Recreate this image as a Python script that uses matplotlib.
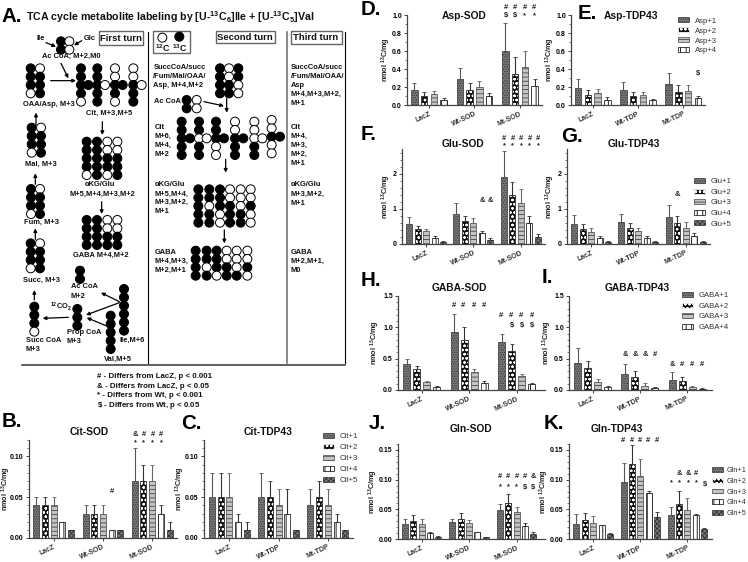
import matplotlib
matplotlib.use('Agg')
import matplotlib.pyplot as plt
from matplotlib.patches import Circle, Rectangle, Patch
from matplotlib.ticker import MultipleLocator, FormatStrFormatter

plt.rcParams['font.family'] = ['Liberation Sans', 'DejaVu Sans']
plt.rcParams['mathtext.fontset'] = 'custom'
plt.rcParams['mathtext.rm'] = 'Liberation Sans'
plt.rcParams['mathtext.bf'] = 'Liberation Sans:bold'
plt.rcParams['mathtext.default'] = 'regular'
plt.rcParams['hatch.linewidth'] = 0.6

W, H = 748, 562
sod_groups = ['LacZ', 'Wt-SOD', 'Mt-SOD']
tdp_groups = ['LacZ', 'Wt-TDP', 'Mt-TDP']

cit_sod_vals = [[.04, .03, .07], [.04, .03, .07], [.04, .03, .07], [.02, .01, .03], [.01, .01, .01]]
cit_sod_tops = [[.05, .04, .11], [.05, .04, .09], [.05, .04, .09], [.02, .01, .04], [.01, .01, .02]]
cit_tdp_vals = [[.05, .05, .04], [.05, .05, .05], [.05, .04, .04], [.02, .03, .02], [.01, .01, .01]]
cit_tdp_tops = [[.08, .08, .06], [.08, .07, .07], [.08, .06, .06], [.03, .06, .03], [.02, .01, .01]]
asp_sod_vals = [[.17, .29, .60], [.10, .17, .35], [.12, .20, .42], [.06, .10, .21]]
asp_sod_tops = [[.24, .41, .91], [.14, .24, .53], [.155, .265, .595], [.075, .13, .285]]
asp_tdp_vals = [[.19, .17, .23], [.11, .10, .14], [.13, .11, .16], [.06, .055, .08]]
asp_tdp_tops = [[.29, .26, .36], [.17, .15, .225], [.18, .15, .225], [.085, .07, .105]]
glu_sod_vals = [[.58, .86, 1.9], [.44, .66, 1.4], [.37, .6, 1.18], [.17, .3, .6], [.06, .12, .21]]
glu_sod_tops = [[.77, 1.17, 2.65], [.51, .8, 1.78], [.44, .73, 1.56], [.22, .36, .79], [.08, .17, .28]]
glu_tdp_vals = [[.58, .62, .76], [.44, .46, .6], [.35, .37, .47], [.18, .18, .24], [.06, .06, .07]]
glu_tdp_tops = [[.83, .85, 1.12], [.57, .59, .79], [.46, .46, .63], [.24, .23, .32], [.08, .08, .09]]
gaba_sod_vals = [[.41, .92, .76], [.33, .8, .63], [.12, .28, .22], [.05, .11, .09]]
gaba_sod_tops = [[.49, 1.21, .9], [.38, 1.01, .73], [.14, .34, .26], [.06, .14, .11]]
gaba_tdp_vals = [[.43, .25, .16], [.35, .21, .14], [.13, .07, .05], [.05, .03, .02]]
gaba_tdp_tops = [[.67, .42, .28], [.47, .3, .2], [.17, .11, .07], [.065, .04, .03]]
gln_sod_vals = [[.025, .028, .049], [.03, .033, .061], [.025, .027, .045], [.01, .011, .022], [.004, .004, .008]]
gln_sod_tops = [[.033, .034, .059], [.041, .043, .075], [.034, .032, .054], [.011, .012, .027], [.005, .004, .011]]
gln_tdp_vals = [[.025, .096, .041], [.032, .127, .059], [.027, .106, .049], [.023, .077, .041], [.009, .037, .017]]
gln_tdp_tops = [[.042, .128, .054], [.044, .158, .081], [.038, .135, .069], [.024, .081, .042], [.01, .045, .019]]

STY = [dict(facecolor='#7a7a7a', hatch='.......', edgecolor='#333333'),
       dict(facecolor='#111111', hatch='oooo', edgecolor='white'),
       dict(facecolor='#c4c4c4', hatch='----', edgecolor='#444444'),
       dict(facecolor='white', hatch='|||', edgecolor='black'),
       dict(facecolor='#7a7a7a', hatch='xxxxxxx', edgecolor='#333333')]
ERRC = ['#555555', '#333333', '#666666', '#333333', '#333333']

fig = plt.figure(figsize=(W / 100, H / 100), dpi=100)

def panel(vals, tops, groups, box, ymax, major, minor, fmt, first, pitch, gpitch, barw, labx):
    left, right, top, bottom = box
    ax = fig.add_axes([left / W, 1 - bottom / H, (right - left) / W, (bottom - top) / H])
    ax.set_xlim(left, right)
    ax.set_ylim(0, ymax)
    n = len(vals)
    for s, (v, t) in enumerate(zip(vals, tops)):
        xs = [first + g * gpitch + s * pitch for g in range(3)]
        ax.bar(xs, v, width=barw, linewidth=0.5, **STY[s])
        if s == 1:
            ax.bar(xs, v, width=barw, fill=False, edgecolor='black', linewidth=0.5)
        ax.errorbar(xs, v, yerr=[[0] * 3, [b - a for a, b in zip(v, t)]], fmt='none',
                    ecolor=ERRC[s], elinewidth=0.8, capsize=1.2, capthick=0.6)
    ax.set_xticks([first + g * gpitch + (n - 1) * pitch / 2 for g in range(3)])
    ax.set_xticklabels(groups, rotation=25, ha='right', rotation_mode='anchor',
                       fontsize=5, fontweight='bold', color='#333333')
    ax.yaxis.set_major_locator(MultipleLocator(major))
    ax.yaxis.set_minor_locator(MultipleLocator(minor))
    ax.yaxis.set_major_formatter(FormatStrFormatter(fmt))
    ax.tick_params(axis='y', labelsize=5, length=2.2, width=0.7, pad=1.5, color='#444444')
    ax.tick_params(axis='y', which='minor', length=1.2, width=0.5, color='#444444')
    ax.tick_params(axis='x', length=2, width=0.7, pad=2, color='#444444')
    for lab in ax.get_yticklabels():
        lab.set_fontweight('bold')
    for sp in ('top', 'right'):
        ax.spines[sp].set_visible(False)
    for sp in ('left', 'bottom'):
        ax.spines[sp].set_linewidth(0.9)
        ax.spines[sp].set_color('#444444')
    ax.set_ylabel('nmol $^{13}$C/mg', fontsize=5.2, fontweight='bold', color='#222222', va='center')
    ax.yaxis.set_label_coords((labx - left) / (right - left), 0.5)
    ax.patch.set_alpha(0)
    return ax

def add_legend(ax, labels, x, y, row, fs=5.6, gap=6.5):
    handles = [Patch(linewidth=0.5, label=l, **STY[i]) for i, l in enumerate(labels)]
    px = fs * 100 / 72
    ax.legend(handles=handles, loc='upper left', bbox_to_anchor=(x / W, 1 - (y - row / 2 + 1.5) / H),
              bbox_transform=fig.transFigure, frameon=False, fontsize=fs, borderpad=0, borderaxespad=0,
              handlelength=10.5 / px, handleheight=0.65, handletextpad=gap / px,
              labelspacing=(row - px) / px, labelcolor='#333333')

axB = panel(cit_sod_vals, cit_sod_tops, sod_groups, (29, 177, 440, 538), .12, .05, .01, '%.2f', 36.3, 8.7, 49.2, 6, 6)
axC = panel(cit_tdp_vals, cit_tdp_tops, tdp_groups, (204, 353, 440, 538), .12, .05, .01, '%.2f', 212, 8.7, 49.2, 6, 180)
axD = panel(asp_sod_vals, asp_sod_tops, sod_groups, (407, 542, 15, 105), 1.0, .2, .1, '%.1f', 414.3, 9.8, 45.5, 6.5, 386)
axE = panel(asp_tdp_vals, asp_tdp_tops, tdp_groups, (571, 705, 15, 105), 1.0, .2, .1, '%.1f', 578, 9.8, 45.3, 6.5, 550)
axF = panel(glu_sod_vals, glu_sod_tops, sod_groups, (402, 545, 149, 244), 2.71, 1, .2, '%.0f', 409, 8.5, 47.4, 6, 386)
axG = panel(glu_tdp_vals, glu_tdp_tops, tdp_groups, (567, 710, 149, 244), 2.71, 1, .2, '%.0f', 574, 8.5, 47.4, 6, 550)
axH = panel(gaba_sod_vals, gaba_sod_tops, sod_groups, (398, 545, 296, 390), 1.5, .5, .1, '%.1f', 406.7, 10, 47.5, 7, 375)
axI = panel(gaba_tdp_vals, gaba_tdp_tops, tdp_groups, (569, 712, 296, 390), 1.5, .5, .1, '%.1f', 577.7, 10, 47.2, 7, 547)
axJ = panel(gln_sod_vals, gln_sod_tops, sod_groups, (398, 545, 444, 539), .16, .05, .01, '%.2f', 405, 8.35, 47.4, 6, 373)
axK = panel(gln_tdp_vals, gln_tdp_tops, tdp_groups, (569, 712, 444, 539), .16, .05, .01, '%.2f', 576.3, 8.4, 47.2, 6, 544)

add_legend(axC, ['Cit+%d' % i for i in range(1, 6)], 323, 437, 11.4)
add_legend(axE, ['Asp+%d' % i for i in range(1, 5)], 678, 21, 10.4)
add_legend(axG, ['Glu+%d' % i for i in range(1, 6)], 694, 182, 11)
add_legend(axI, ['GABA+%d' % i for i in range(1, 5)], 682, 296, 11)
add_legend(axK, ['Gln+%d' % i for i in range(1, 6)], 712, 471, 11.1, fs=5.3, gap=4)

# overlay in 3x pixel coordinates for the schematic and annotations
ov = fig.add_axes([0, 0, 1, 1])
ov.set_xlim(0, W * 3)
ov.set_ylim(H * 3, 0)
ov.axis('off')
ov.patch.set_alpha(0)

def T(x, y, s, fs=5.4, ha='left', bold=True, va='center', color='#111111'):
    ov.text(x, y, s, fontsize=fs, ha=ha, va=va, fontweight='bold' if bold else 'normal', color=color)

def chain(x, y, pat, dy=25):
    for i, c in enumerate(pat):
        ov.add_patch(Circle((x, y + i * dy), 13.5, facecolor='black' if c == 'b' else 'white',
                            edgecolor='black', linewidth=0.7, zorder=3))

def arrow(x0, y0, x1, y1):
    ov.annotate('', xy=(x1, y1), xytext=(x0, y0),
                arrowprops=dict(arrowstyle='-|>', mutation_scale=5, lw=0.9, color='black', shrinkA=0, shrinkB=0))

# chains: x, y, pattern
chains = [
    (183, 124, 'bb'), (208, 124, 'ww'),
    (92, 205, 'bbbw'), (120, 205, 'wbbb'),
    (243, 205, 'bbbbw'), (265, 255, 'b'), (292, 205, 'bbbbb'), (315, 255, 'w'),
    (345, 205, 'wwbbw'), (368, 255, 'b'), (400, 205, 'wwbbb'), (425, 255, 'w'),
    (260, 425, 'bbbbw'), (291, 425, 'bbbbb'), (322, 425, 'wwbbw'), (352, 425, 'wwbbb'),
    (260, 660, 'bbbb'), (291, 660, 'bbbb'), (322, 660, 'wwbb'), (352, 660, 'wwbb'),
    (95, 383, 'bbbw'), (123, 383, 'wbbb'),
    (93, 567, 'bbbw'), (120, 567, 'wbbb'),
    (92, 730, 'bbbw'), (120, 730, 'wbbb'),
    (240, 812, 'bb'),
    (372, 867, 'bbbbbb'), (332, 947, 'bbbbb'), (232, 927, 'bbb'), (103, 920, 'bbbw'),
    (660, 205, 'bbbb'), (687, 205, 'wwbb'), (715, 205, 'bbww'),
    (560, 300, 'bb'), (590, 300, 'ww'),
    (545, 365, 'bbbbb'), (570, 415, 'b'), (597, 365, 'bbwbb'), (620, 415, 'w'),
    (648, 365, 'bbbww'), (672, 415, 'b'), (705, 365, 'wwbbb'), (730, 415, 'b'),
    (763, 365, 'wwwbb'), (787, 415, 'w'), (815, 360, 'wwbww'), (840, 410, 'b'),
    (595, 568, 'bbbbb'), (628, 568, 'bbwbb'), (660, 568, 'bbbww'),
    (690, 568, 'wwbbb'), (722, 568, 'wwwbb'), (752, 568, 'wwbww'),
    (587, 752, 'bbbb'), (620, 752, 'bbwb'), (650, 752, 'bbbw'),
    (680, 752, 'wwbb'), (710, 752, 'wwwb'), (742, 752, 'wwbw'),
    (487, 113, 'w'), (538, 110, 'b'),
]
for c in chains:
    chain(*c)

arrows = [(138, 128, 168, 140), (245, 122, 222, 136), (183, 190, 205, 235), (152, 242, 228, 242),
          (307, 365, 307, 405), (305, 605, 305, 642), (108, 375, 108, 338), (106, 553, 106, 520),
          (106, 718, 106, 685), (103, 900, 103, 870), (205, 952, 128, 955), (358, 905, 303, 878),
          (358, 908, 258, 945), (320, 978, 260, 953), (612, 305, 672, 318), (680, 295, 680, 338),
          (677, 478, 677, 518), (673, 690, 673, 730)]
for a in arrows:
    arrow(*a)

# structure lines
for x, col, lw in [(445, 'black', 0.8), (860, '#777777', 1.2), (1035, 'black', 0.8)]:
    ov.plot([x, x], [95, 1088], color=col, lw=lw)
ov.plot([65, 1035], [1095, 1095], color='#444444', lw=1.2)
for x0, y0, x1, y1 in [(298, 92, 428, 135), (460, 92, 570, 160), (648, 92, 825, 130), (873, 92, 1027, 132)]:
    ov.add_patch(Rectangle((x0, y0), x1 - x0, y1 - y0, fill=False, edgecolor='#666666', lw=1))

T(363, 115, 'First turn', 6.8, 'center')
T(736, 112, 'Second turn', 6.8, 'center')
T(948, 114, 'Third turn', 6.8, 'center')
T(488, 143, '$^{12}$C', 6.4, 'center')
T(538, 145, '$^{13}$C', 6.4, 'center')

labels = [
    (110, 115, 'Ile'), (250, 115, 'Glc'), (125, 170, 'Ac CoA, M+2,M0'), (70, 315, 'OAA/Asp, M+3'),
    (257, 340, 'Cit, M+3,M+5'), (255, 555, 'αKG/Glu'), (210, 583, 'M+5,M+4,M+3,M+2'),
    (220, 766, 'GABA M+4,M+2'), (75, 492, 'Mal, M+3'), (72, 668, 'Fum, M+3'), (68, 840, 'Succ, M+3'),
    (212, 860, 'Ac CoA'), (212, 888, 'M+2'), (360, 1020, 'Ile,M+6'), (313, 1078, 'Val,M+5'),
    (200, 998, 'Prop CoA'), (200, 1025, 'M+3'), (78, 1020, 'Succ CoA'), (78, 1047, 'M+3'),
    (150, 920, '$^{12}$CO$_2$'),
    (460, 203, 'SuccCoA/succ'), (460, 230, '/Fum/Mal/OAA/'), (460, 256, 'Asp, M+4,M+2'), (463, 305, 'Ac CoA'),
    (463, 382, 'Cit'), (463, 408, 'M+6,'), (463, 435, 'M+4,'), (463, 462, 'M+2'),
    (463, 555, 'αKG/Glu'), (463, 582, 'M+5,M+4,'), (463, 608, 'M+3,M+2,'), (463, 635, 'M+1'),
    (463, 757, 'GABA'), (463, 783, 'M+4,M+3,'), (463, 810, 'M+2,M+1'),
    (872, 203, 'SuccCoA/succ'), (872, 230, '/Fum/Mal/OAA/'), (872, 256, 'Asp'), (872, 283, 'M+4,M+3,M+2,'), (872, 310, 'M+1'),
    (872, 382, 'Cit'), (872, 408, 'M+4,'), (872, 435, 'M+3,'), (872, 462, 'M+2,'), (872, 490, 'M+1'),
    (872, 555, 'αKG/Glu'), (872, 582, 'M+3,M+2,'), (872, 610, 'M+1'),
    (872, 757, 'GABA'), (872, 785, 'M+2,M+1,'), (872, 812, 'M0'),
]
for x, y, s in labels:
    T(x, y, s)

notes = ['# - Differs from LacZ, p < 0.001', '& - Differs from LacZ, p < 0.05',
         '* - Differs from Wt, p < 0.001', '$\\$$ - Differs from Wt, p < 0.05']
for y, s in zip([1128, 1158, 1187, 1216], notes):
    T(292, y, s, 5.65)

T(78, 52, 'TCA cycle metabolite labeling by [U-$^{13}$C$_6$]Ile + [U-$^{13}$C$_5$]Val', 7.65)

titles = [(267, 1297, 'Cit-SOD'), (803, 1297, 'Cit-TDP43'), (1392, 47, 'Asp-SOD'), (1893, 47, 'Asp-TDP43'),
          (1389, 432, 'Glu-SOD'), (1901, 432, 'Glu-TDP43'), (1378, 865, 'GABA-SOD'), (1913, 865, 'GABA-TDP43'),
          (1412, 1287, 'Gln-SOD'), (1850, 1287, 'Gln-TDP43')]
for x, y, s in titles:
    T(x, y, s, 7.4, 'center')

letters = [(5, 50, 'A.'), (5, 1265, 'B.'), (542, 1270, 'C.'), (1082, 28, 'D.'), (1732, 40, 'E.'),
           (1082, 402, 'F.'), (1683, 408, 'G.'), (1082, 840, 'H.'), (1625, 832, 'I.'),
           (1105, 1270, 'J.'), (1630, 1270, 'K.')]
for x, y, s in letters:
    T(x, y, s, 14.8, color='black')

marks = {
    '#': [(431, 1302), (458, 1302), (484, 1302), (337, 1475),
          (1517, 22), (1545, 22), (1574, 22), (1603, 22),
          (1513, 415), (1538, 415), (1564, 415), (1589, 415), (1615, 415),
          (1361, 915), (1390, 915), (1422, 915), (1452, 915),
          (1504, 945), (1534, 945), (1564, 945), (1595, 945),
          (1966, 1062), (2046, 1092), (2077, 1092), (2107, 1092),
          (1500, 1430), (1525, 1430), (1550, 1430), (1574, 1430),
          (1870, 1320), (1895, 1320), (1921, 1320), (1945, 1320), (1971, 1320), (2088, 1420)],
    '&': [(406, 1302), (1447, 600), (1472, 600), (2033, 585),
          (1877, 1062), (1906, 1062), (1937, 1062), (1600, 1430), (2039, 1420), (2065, 1420), (2017, 1092)],
    '$\\$$': [(1517, 46), (1545, 46), (2095, 220), (1535, 975), (1566, 975), (1596, 975),
              (1574, 1460), (1600, 1460), (2115, 1452)],
    '*': [(406, 1327), (431, 1327), (458, 1327), (484, 1327), (1574, 46), (1603, 46),
          (1513, 438), (1538, 438), (1564, 438), (1589, 438), (1615, 438),
          (1500, 1460), (1525, 1460), (1550, 1460),
          (2013, 1447), (2039, 1447), (2065, 1447), (2088, 1447)],
}
for s, pts in marks.items():
    for x, y in pts:
        T(x, y, s, 5.4, 'center', color='#222222')

fig.savefig('out.png', dpi=100)
